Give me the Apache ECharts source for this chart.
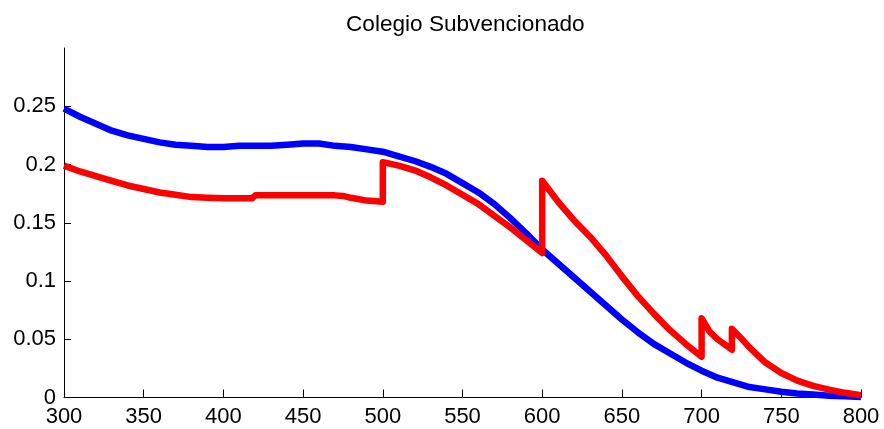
<!DOCTYPE html>
<html>
<head>
<meta charset="utf-8">
<script src="https://cdn.jsdelivr.net/npm/echarts@6/dist/echarts.min.js"></script>
<style>html,body{margin:0;padding:0;background:#fff}#c{width:884px;height:429px}</style>
</head>
<body>
<div id="c"></div>
<script>
const titleText = 'Colegio Subvencionado';
const xTicks = [300, 350, 400, 450, 500, 550, 600, 650, 700, 750, 800];
const yTicks = [0, 0.05, 0.1, 0.15, 0.2, 0.25];

const blueX = [300,310,320,330,340,350,360,370,380,390,400,410,420,430,440,450,460,470,480,490,500,510,520,530,540,550,560,570,580,590,600,610,620,630,640,650,660,670,680,690,700,710,720,730,740,750,760,770,780,790,800];
const blueY = [0.248,0.241,0.235,0.229,0.225,0.222,0.219,0.217,0.216,0.215,0.215,0.216,0.216,0.216,0.217,0.218,0.218,0.216,0.215,0.213,0.211,0.207,0.203,0.198,0.192,0.184,0.176,0.166,0.154,0.141,0.127,0.115,0.103,0.091,0.079,0.067,0.056,0.046,0.038,0.030,0.023,0.017,0.013,0.009,0.007,0.005,0.0035,0.0025,0.0015,0.001,0.0005];

const redX = [300,310,320,330,340,350,360,370,380,390,400,410,418,420,430,440,450,460,470,475,480,490,500,500,510,520,530,540,550,560,570,580,590,600,600,610,620,630,640,650,660,670,680,690,700,700,705,710,719,719,724,730,740,750,760,770,780,790,800];
const redY = [0.199,0.194,0.190,0.186,0.182,0.179,0.176,0.174,0.172,0.1715,0.171,0.171,0.171,0.1735,0.1735,0.1735,0.1735,0.1735,0.1735,0.173,0.1714,0.169,0.168,0.202,0.199,0.195,0.189,0.182,0.174,0.166,0.156,0.146,0.135,0.124,0.186,0.168,0.152,0.138,0.122,0.104,0.087,0.072,0.058,0.046,0.035,0.068,0.0565,0.050,0.041,0.059,0.052,0.043,0.030,0.021,0.0145,0.010,0.0068,0.004,0.002];

const pair = (xs, ys) => xs.map((x, i) => [x, ys[i]]);
const font = 'Liberation Sans, Arial, Helvetica, sans-serif';

const chart = echarts.init(document.getElementById('c'), null, {renderer: 'canvas'});
chart.setOption({
  animation: false,
  backgroundColor: '#fff',
  title: {
    text: titleText,
    left: 341,
    top: 8,
    textStyle: {fontFamily: font, fontSize: 22.6, fontWeight: 'normal', color: '#000'}
  },
  grid: {left: 64, right: 23, top: 48, bottom: 31.5, containLabel: false},
  xAxis: {
    type: 'value', min: 300, max: 800, interval: 50,
    axisLine: {show: true, lineStyle: {color: '#000', width: 1}},
    axisTick: {show: true, inside: true, length: 8, lineStyle: {color: '#000'}, customValues: xTicks},
    axisLabel: {color: '#000', fontFamily: font, fontSize: 22, margin: 8, customValues: xTicks},
    splitLine: {show: false}
  },
  yAxis: {
    type: 'value', min: 0, max: 0.3, interval: 0.05,
    axisLine: {show: true, lineStyle: {color: '#000', width: 1}},
    axisTick: {show: true, inside: true, length: 7, lineStyle: {color: '#000'}, customValues: yTicks},
    axisLabel: {color: '#000', fontFamily: font, fontSize: 22, margin: 8, customValues: yTicks,
      formatter: v => v === 0 ? '0' : String(+(+v).toFixed(2))},
    splitLine: {show: false}
  },
  series: [
    {type: 'line', data: pair(blueX, blueY), showSymbol: false, symbol: 'none',
     lineStyle: {color: '#0000ff', width: 6.5, join: 'round'}, z: 2},
    {type: 'line', data: pair(redX, redY), showSymbol: false, symbol: 'none',
     lineStyle: {color: '#ff0000', width: 6.5, join: 'round'}, z: 3}
  ]
});
</script>
</body>
</html>
